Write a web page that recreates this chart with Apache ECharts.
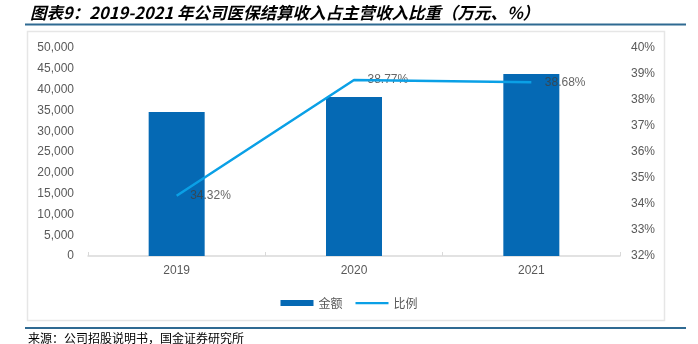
<!DOCTYPE html>
<html>
<head>
<meta charset="utf-8">
<script src="https://cdn.jsdelivr.net/npm/echarts@6/dist/echarts.min.js"></script>
<style>
html,body{margin:0;padding:0;background:#fff;}
#chart{width:698px;height:344px;}
</style>
</head>
<body>
<div id="chart"></div>
<script>
const titleText = '图表9：2019-2021 年公司医保结算收入占主营收入比重（万元、%）';
const sourceText = '来源：公司招股说明书，国金证券研究所';
const categories = ['2019', '2020', '2021'];
const amountName = '金额';
const ratioName = '比例';
const amountValues = [34600, 38200, 43750];
const ratioValues = [34.32, 38.77, 38.68];
const leftAxisMin = 0, leftAxisMax = 50000, leftAxisStep = 5000;
const rightAxisMin = 32, rightAxisMax = 40, rightAxisStep = 1;

const chart = echarts.init(document.getElementById('chart'), null, {renderer: 'canvas'});
const labelFont = 'Liberation Sans, Arial, sans-serif';
const cjkFont = '"Noto Sans CJK SC", sans-serif';

chart.setOption({
  animation: false,
  backgroundColor: '#ffffff',
  graphic: [
    {type: 'text', left: 30, top: 4, style: {text: titleText, font: 'italic bold 16.5px ' + cjkFont, fill: '#000'}},
    {type: 'line', shape: {x1: 25, y1: 24.5, x2: 686, y2: 24.5}, style: {stroke: '#2f6a92', lineWidth: 2}},
    {type: 'rect', shape: {x: 27.5, y: 31.5, width: 637, height: 289}, style: {fill: 'none', stroke: '#e6e6e6', lineWidth: 1.5}},
    {type: 'line', shape: {x1: 25, y1: 328, x2: 686, y2: 328}, style: {stroke: '#2f6a92', lineWidth: 2}},
    {type: 'text', left: 28, top: 332, style: {text: sourceText, font: '12px ' + cjkFont, fill: '#000'}}
  ],
  legend: {
    left: 'center',
    top: 292,
    itemWidth: 33,
    itemHeight: 6,
    itemGap: 13,
    textStyle: {color: '#595959', fontSize: 12, fontFamily: cjkFont},
    data: [
      {name: amountName, icon: 'rect'},
      {name: ratioName, icon: 'path://M0,0 M0,2 L33,2 L33,4.2 L0,4.2 Z M33,6'}
    ]
  },
  grid: {left: 88, right: 78, top: 48, bottom: 88, containLabel: false},
  xAxis: {
    type: 'category',
    data: categories,
    boundaryGap: true,
    axisLine: {show: true, lineStyle: {color: '#d9d9d9', width: 1.5}},
    axisTick: {show: true, inside: true, length: 4, lineStyle: {color: '#d9d9d9'}},
    axisLabel: {color: '#595959', fontSize: 12, fontFamily: labelFont, margin: 9}
  },
  yAxis: [
    {
      type: 'value', min: leftAxisMin, max: leftAxisMax, interval: leftAxisStep,
      axisLine: {show: false}, axisTick: {show: false}, splitLine: {show: false},
      axisLabel: {color: '#595959', fontSize: 12, fontFamily: labelFont, margin: 14,
        formatter: v => v.toLocaleString('en-US')}
    },
    {
      type: 'value', min: rightAxisMin, max: rightAxisMax, interval: rightAxisStep,
      axisLine: {show: false}, axisTick: {show: false}, splitLine: {show: false},
      axisLabel: {color: '#595959', fontSize: 12, fontFamily: labelFont, margin: 11,
        formatter: v => v + '%'}
    }
  ],
  series: [
    {
      name: amountName, type: 'bar', yAxisIndex: 0, data: amountValues,
      barWidth: 56, itemStyle: {color: '#0569B4'}
    },
    {
      name: ratioName, type: 'line', yAxisIndex: 1, data: ratioValues,
      symbol: 'none', showSymbol: false,
      lineStyle: {color: '#0AA0E6', width: 2.5},
      itemStyle: {color: '#0AA0E6'}
    },
    {
      name: ratioName + '_label', type: 'scatter', yAxisIndex: 1, data: ratioValues,
      symbolSize: 1, itemStyle: {color: 'rgba(0,0,0,0)'}, silent: true,
      label: {show: true, position: 'right', distance: 13, color: '#404040', fontSize: 12,
        fontFamily: labelFont, formatter: p => p.value.toFixed(2) + '%'}
    }
  ]
});
</script>
</body>
</html>
